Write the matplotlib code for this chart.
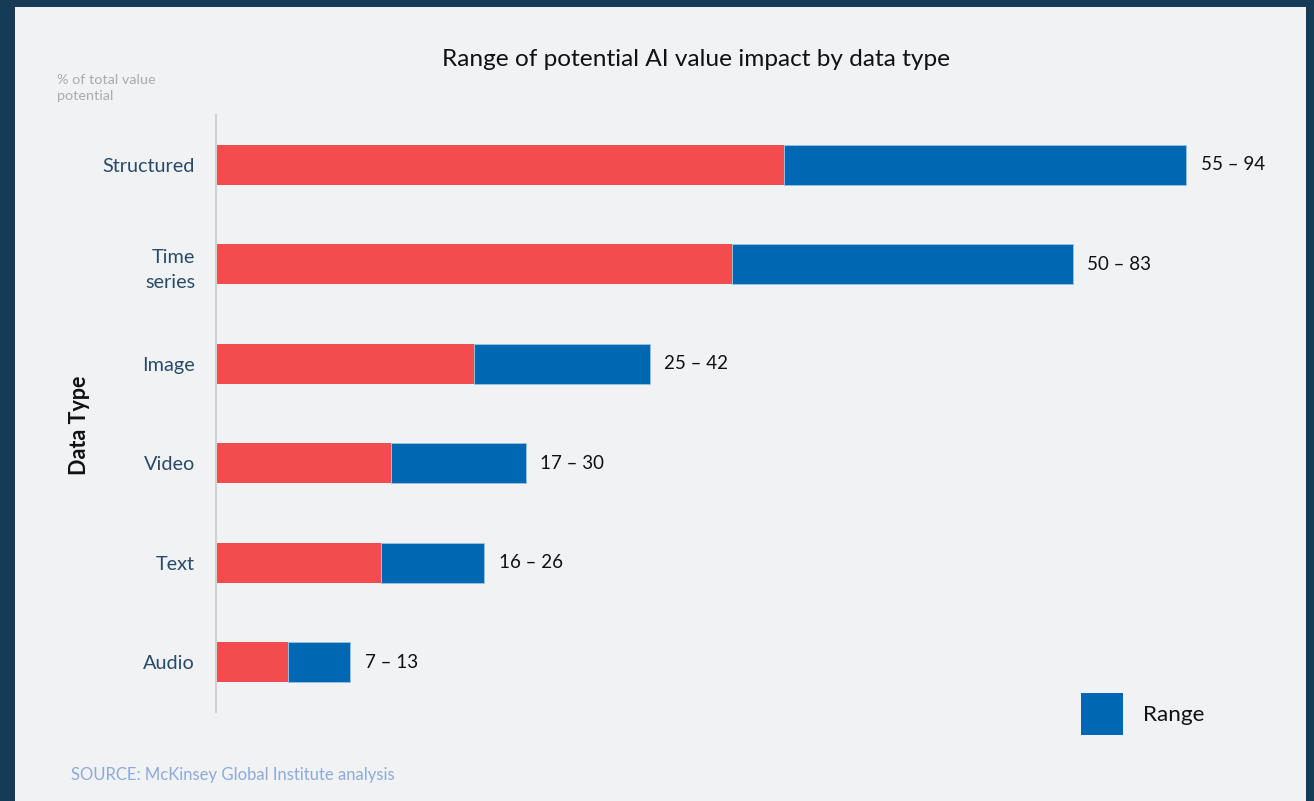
import matplotlib.pyplot as plt
from matplotlib.patches import Rectangle

# AI value impact ranges by data type (% of total value potential)
data_types = ["Structured", "Time\nseries", "Image", "Video", "Text", "Audio"]
low_values = [55, 50, 25, 17, 16, 7]
high_values = [94, 83, 42, 30, 26, 13]

RED = "#f24c4f"
BLUE = "#0068b2"
NAVY = "#163b57"
PANEL = "#f0f2f4"
LABEL_BLUE = "#294b68"

plt.rcParams["font.family"] = ["Lato", "DejaVu Sans"]

W, H = 1314, 801
fig = plt.figure(figsize=(W / 100, H / 100), dpi=100)
fig.patch.set_facecolor(NAVY)

# light panel sitting on the dark backdrop
fig.add_artist(Rectangle((15 / W, 0), (1306 - 15) / W, (801 - 7) / H,
                         transform=fig.transFigure, facecolor=PANEL,
                         edgecolor="none", zorder=0))


def fx(px):
    return px / W


def fy(py):
    return 1 - py / H


ax = fig.add_axes([fx(216), fy(712), fx(1306) - fx(216), fy(115) - fy(712)])
ax.set_facecolor("none")

ypos = list(range(len(data_types)))
ax.barh(ypos, low_values, height=0.4, color=RED, zorder=2)
ax.barh(ypos, [h - l for h, l in zip(high_values, low_values)],
        left=low_values, height=0.4, color=BLUE, edgecolor="#9cc3e2",
        linewidth=0.6, zorder=2)

for y, lo, hi in zip(ypos, low_values, high_values):
    ax.text(hi + 1.4, y, f"{lo} – {hi}", va="center", ha="left",
            fontsize=13.5, color="#111111")

ax.set_xlim(0, 105.6)
ax.set_ylim(len(data_types) - 0.5, -0.5)
ax.set_yticks(ypos)
ax.set_yticklabels(data_types, fontsize=14.3, color=LABEL_BLUE,
                   linespacing=1.6)
ax.tick_params(axis="y", length=0, pad=15)
ax.set_xticks([])
for side in ["top", "right", "bottom"]:
    ax.spines[side].set_visible(False)
ax.spines["left"].set_color("#d0d2d5")
ax.spines["left"].set_linewidth(1.5)

fig.text(fx(80), fy(425), "Data Type", rotation=90, ha="center",
         va="center", fontsize=15.5, fontweight="bold", color="#111111")

fig.text(fx(696), fy(60), "Range of potential AI value impact by data type",
         ha="center", va="center", fontsize=17.6, color="#111111")

fig.text(fx(57), fy(88), "% of total value\npotential", ha="left",
         va="center", fontsize=10.4, color="#a9abae", linespacing=1.3)

# legend swatch
fig.add_artist(Rectangle((fx(1081), fy(735)), fx(42), 42 / H,
                         transform=fig.transFigure, facecolor=BLUE,
                         edgecolor="none"))
fig.text(fx(1143), fy(715), "Range", ha="left", va="center",
         fontsize=16.2, color="#111111")

fig.text(fx(71), fy(775), "SOURCE: McKinsey Global Institute analysis",
         ha="left", va="center", fontsize=12, color="#8eaadb")

fig.savefig("out.png", dpi=100, facecolor=fig.get_facecolor())
